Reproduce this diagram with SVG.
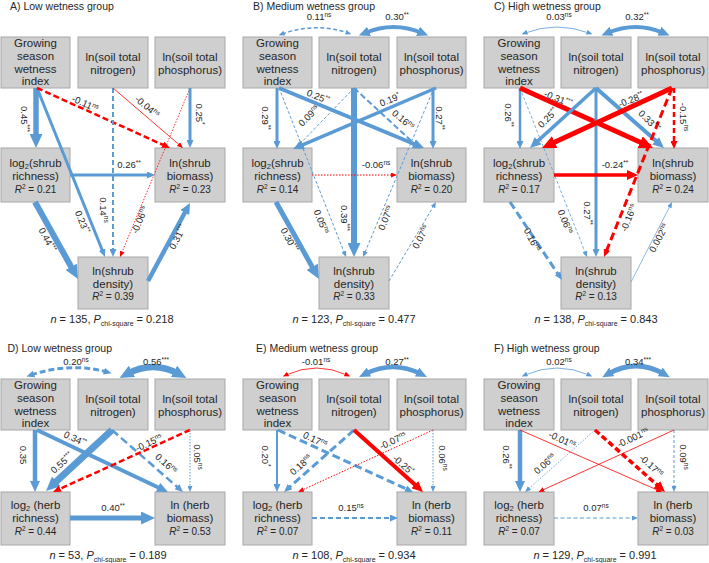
<svg xmlns="http://www.w3.org/2000/svg" width="709" height="563" viewBox="0 0 709 563">
<style>
.bg{fill:#ffffff}
.box{fill:#cfcfcf;stroke:#a8a8a8;stroke-width:1}
text{font-family:"Liberation Sans",Arial,sans-serif;fill:#262626}
.t{font-size:11.5px;text-anchor:middle}
.rs{font-size:10px}
.el{font-size:9.5px;text-anchor:middle}
.ttl{font-size:10.5px}
.ft{font-size:11px;text-anchor:middle}
.e{fill:none}
.b{stroke:#5b9bd5}
.r{stroke:#ff0000}
.dot{stroke-dasharray:1.5 1.5}
.d3{stroke-dasharray:3 2}
.d4{stroke-dasharray:4 2.5}
.d5{stroke-dasharray:5 3}
.d6{stroke-dasharray:6 3}
.d8{stroke-dasharray:8 4}
</style>
<defs>
<marker id="mbS" viewBox="0 0 6 5" refX="2.4" refY="2.5" markerWidth="6" markerHeight="5" markerUnits="userSpaceOnUse" orient="auto-start-reverse"><path d="M0,0L6,2.5L0,5z" fill="#5b9bd5"/></marker>
<marker id="mbM" viewBox="0 0 8 7" refX="3.2" refY="3.5" markerWidth="8" markerHeight="7" markerUnits="userSpaceOnUse" orient="auto-start-reverse"><path d="M0,0L8,3.5L0,7z" fill="#5b9bd5"/></marker>
<marker id="mbL" viewBox="0 0 11 10" refX="4.4" refY="5" markerWidth="11" markerHeight="10" markerUnits="userSpaceOnUse" orient="auto-start-reverse"><path d="M0,0L11,5L0,10z" fill="#5b9bd5"/></marker>
<marker id="mbX" viewBox="0 0 14 13" refX="5.6" refY="6.5" markerWidth="14" markerHeight="13" markerUnits="userSpaceOnUse" orient="auto-start-reverse"><path d="M0,0L14,6.5L0,13z" fill="#5b9bd5"/></marker>
<marker id="mrS" viewBox="0 0 6 5" refX="2.4" refY="2.5" markerWidth="6" markerHeight="5" markerUnits="userSpaceOnUse" orient="auto-start-reverse"><path d="M0,0L6,2.5L0,5z" fill="#ff0000"/></marker>
<marker id="mrM" viewBox="0 0 8 7" refX="3.2" refY="3.5" markerWidth="8" markerHeight="7" markerUnits="userSpaceOnUse" orient="auto-start-reverse"><path d="M0,0L8,3.5L0,7z" fill="#ff0000"/></marker>
<marker id="mrL" viewBox="0 0 11 10" refX="4.4" refY="5" markerWidth="11" markerHeight="10" markerUnits="userSpaceOnUse" orient="auto-start-reverse"><path d="M0,0L11,5L0,10z" fill="#ff0000"/></marker>
<marker id="mrX" viewBox="0 0 14 13" refX="5.6" refY="6.5" markerWidth="14" markerHeight="13" markerUnits="userSpaceOnUse" orient="auto-start-reverse"><path d="M0,0L14,6.5L0,13z" fill="#ff0000"/></marker>
</defs>
<rect class="bg" x="0" y="0" width="709" height="563"/>

<g id="titles">
<text class="ttl" x="10" y="9.5">A) Low wetness group</text>
<text class="ttl" x="253" y="9.5">B) Medium wetness group</text>
<text class="ttl" x="494" y="9.5">C) High wetness group</text>
<text class="ttl" x="7.5" y="351.5">D) Low wetness group</text>
<text class="ttl" x="256" y="351.5">E) Medium wetness group</text>
<text class="ttl" x="494" y="351.5">F) High wetness group</text>
</g>

<!-- Panel A nodes -->
<g id="A-wetness" transform="translate(1,37)"><rect class="box" width="69" height="51"/><text class="t"><tspan x="34.5" y="10">Growing</tspan><tspan x="34.5" y="22.8">season</tspan><tspan x="34.5" y="35.6">wetness</tspan><tspan x="34.5" y="48.4">index</tspan></text></g>
<g id="A-nitrogen" transform="translate(78,37)"><rect class="box" width="70" height="51"/><text class="t"><tspan x="35" y="23.5">ln(soil total</tspan><tspan x="35" y="36.5">nitrogen)</tspan></text></g>
<g id="A-phosphorus" transform="translate(155,37)"><rect class="box" width="70" height="51"/><text class="t"><tspan x="35" y="23.5">ln(soil total</tspan><tspan x="35" y="36.5">phosphorus)</tspan></text></g>
<g id="A-richness" transform="translate(1,148)"><rect class="box" width="69" height="54"/><text class="t" x="34.5" y="18.5">log<tspan dy="2" font-size="7.5">2</tspan><tspan dy="-2">(shrub</tspan></text><text class="t" x="34.5" y="32">richness)</text><text class="t rs" x="34.5" y="44.8"><tspan font-style="italic">R</tspan><tspan dy="-4" font-size="6.5">2</tspan><tspan dy="4"> = 0.21</tspan></text></g>
<g id="A-biomass" transform="translate(155,148)"><rect class="box" width="70" height="54"/><text class="t" x="35" y="18.5">ln(shrub</text><text class="t" x="35" y="32">biomass)</text><text class="t rs" x="35" y="44.8"><tspan font-style="italic">R</tspan><tspan dy="-4" font-size="6.5">2</tspan><tspan dy="4"> = 0.23</tspan></text></g>
<g id="A-density" transform="translate(78,257)"><rect class="box" width="70" height="52"/><text class="t" x="35" y="18">ln(shrub</text><text class="t" x="35" y="30.5">density)</text><text class="t rs" x="35" y="43"><tspan font-style="italic">R</tspan><tspan dy="-4" font-size="6.5">2</tspan><tspan dy="4"> = 0.39</tspan></text></g>

<!-- Panel B nodes -->
<g id="B-wetness" transform="translate(243,37)"><rect class="box" width="69" height="51"/><text class="t"><tspan x="34.5" y="10">Growing</tspan><tspan x="34.5" y="22.8">season</tspan><tspan x="34.5" y="35.6">wetness</tspan><tspan x="34.5" y="48.4">index</tspan></text></g>
<g id="B-nitrogen" transform="translate(319,37)"><rect class="box" width="70" height="51"/><text class="t"><tspan x="35" y="23.5">ln(soil total</tspan><tspan x="35" y="36.5">nitrogen)</tspan></text></g>
<g id="B-phosphorus" transform="translate(397,37)"><rect class="box" width="69" height="51"/><text class="t"><tspan x="34.5" y="23.5">ln(soil total</tspan><tspan x="34.5" y="36.5">phosphorus)</tspan></text></g>
<g id="B-richness" transform="translate(243,148)"><rect class="box" width="69" height="54"/><text class="t" x="34.5" y="18.5">log<tspan dy="2" font-size="7.5">2</tspan><tspan dy="-2">(shrub</tspan></text><text class="t" x="34.5" y="32">richness)</text><text class="t rs" x="34.5" y="44.8"><tspan font-style="italic">R</tspan><tspan dy="-4" font-size="6.5">2</tspan><tspan dy="4"> = 0.14</tspan></text></g>
<g id="B-biomass" transform="translate(397,148)"><rect class="box" width="69" height="54"/><text class="t" x="34.5" y="18.5">ln(shrub</text><text class="t" x="34.5" y="32">biomass)</text><text class="t rs" x="34.5" y="44.8"><tspan font-style="italic">R</tspan><tspan dy="-4" font-size="6.5">2</tspan><tspan dy="4"> = 0.20</tspan></text></g>
<g id="B-density" transform="translate(319,257)"><rect class="box" width="70" height="52"/><text class="t" x="35" y="18">ln(shrub</text><text class="t" x="35" y="30.5">density)</text><text class="t rs" x="35" y="43"><tspan font-style="italic">R</tspan><tspan dy="-4" font-size="6.5">2</tspan><tspan dy="4"> = 0.33</tspan></text></g>

<!-- Panel C nodes -->
<g id="C-wetness" transform="translate(484,37)"><rect class="box" width="70" height="51"/><text class="t"><tspan x="35" y="10">Growing</tspan><tspan x="35" y="22.8">season</tspan><tspan x="35" y="35.6">wetness</tspan><tspan x="35" y="48.4">index</tspan></text></g>
<g id="C-nitrogen" transform="translate(561,37)"><rect class="box" width="70" height="51"/><text class="t"><tspan x="35" y="23.5">ln(soil total</tspan><tspan x="35" y="36.5">nitrogen)</tspan></text></g>
<g id="C-phosphorus" transform="translate(638,37)"><rect class="box" width="70" height="51"/><text class="t"><tspan x="35" y="23.5">ln(soil total</tspan><tspan x="35" y="36.5">phosphorus)</tspan></text></g>
<g id="C-richness" transform="translate(484,148)"><rect class="box" width="70" height="54"/><text class="t" x="35" y="18.5">log<tspan dy="2" font-size="7.5">2</tspan><tspan dy="-2">(shrub</tspan></text><text class="t" x="35" y="32">richness)</text><text class="t rs" x="35" y="44.8"><tspan font-style="italic">R</tspan><tspan dy="-4" font-size="6.5">2</tspan><tspan dy="4"> = 0.17</tspan></text></g>
<g id="C-biomass" transform="translate(638,148)"><rect class="box" width="70" height="54"/><text class="t" x="35" y="18.5">ln(shrub</text><text class="t" x="35" y="32">biomass)</text><text class="t rs" x="35" y="44.8"><tspan font-style="italic">R</tspan><tspan dy="-4" font-size="6.5">2</tspan><tspan dy="4"> = 0.24</tspan></text></g>
<g id="C-density" transform="translate(561,257)"><rect class="box" width="70" height="52"/><text class="t" x="35" y="18">ln(shrub</text><text class="t" x="35" y="30.5">density)</text><text class="t rs" x="35" y="43"><tspan font-style="italic">R</tspan><tspan dy="-4" font-size="6.5">2</tspan><tspan dy="4"> = 0.13</tspan></text></g>

<!-- Panel D nodes -->
<g id="D-wetness" transform="translate(1,379)"><rect class="box" width="69" height="51"/><text class="t"><tspan x="34.5" y="10">Growing</tspan><tspan x="34.5" y="22.8">season</tspan><tspan x="34.5" y="35.6">wetness</tspan><tspan x="34.5" y="48.4">index</tspan></text></g>
<g id="D-nitrogen" transform="translate(78,379)"><rect class="box" width="70" height="51"/><text class="t"><tspan x="35" y="23.5">ln(soil total</tspan><tspan x="35" y="36.5">nitrogen)</tspan></text></g>
<g id="D-phosphorus" transform="translate(155,379)"><rect class="box" width="70" height="51"/><text class="t"><tspan x="35" y="23.5">ln(soil total</tspan><tspan x="35" y="36.5">phosphorus)</tspan></text></g>
<g id="D-richness" transform="translate(1,492)"><rect class="box" width="69" height="53"/><text class="t" x="34.5" y="16.5">log<tspan dy="2" font-size="7.5">2</tspan><tspan dy="-2"> (herb</tspan></text><text class="t" x="34.5" y="30">richness)</text><text class="t rs" x="34.5" y="42.5"><tspan font-style="italic">R</tspan><tspan dy="-4" font-size="6.5">2</tspan><tspan dy="4"> = 0.44</tspan></text></g>
<g id="D-biomass" transform="translate(155,492)"><rect class="box" width="70" height="53"/><text class="t" x="35" y="16.5">ln (herb</text><text class="t" x="35" y="30">biomass)</text><text class="t rs" x="35" y="42.5"><tspan font-style="italic">R</tspan><tspan dy="-4" font-size="6.5">2</tspan><tspan dy="4"> = 0.53</tspan></text></g>

<!-- Panel E nodes -->
<g id="E-wetness" transform="translate(243,379)"><rect class="box" width="69" height="51"/><text class="t"><tspan x="34.5" y="10">Growing</tspan><tspan x="34.5" y="22.8">season</tspan><tspan x="34.5" y="35.6">wetness</tspan><tspan x="34.5" y="48.4">index</tspan></text></g>
<g id="E-nitrogen" transform="translate(319,379)"><rect class="box" width="70" height="51"/><text class="t"><tspan x="35" y="23.5">ln(soil total</tspan><tspan x="35" y="36.5">nitrogen)</tspan></text></g>
<g id="E-phosphorus" transform="translate(397,379)"><rect class="box" width="69" height="51"/><text class="t"><tspan x="34.5" y="23.5">ln(soil total</tspan><tspan x="34.5" y="36.5">phosphorus)</tspan></text></g>
<g id="E-richness" transform="translate(243,492)"><rect class="box" width="69" height="53"/><text class="t" x="34.5" y="16.5">log<tspan dy="2" font-size="7.5">2</tspan><tspan dy="-2"> (herb</tspan></text><text class="t" x="34.5" y="30">richness)</text><text class="t rs" x="34.5" y="42.5"><tspan font-style="italic">R</tspan><tspan dy="-4" font-size="6.5">2</tspan><tspan dy="4"> = 0.07</tspan></text></g>
<g id="E-biomass" transform="translate(397,492)"><rect class="box" width="69" height="53"/><text class="t" x="34.5" y="16.5">ln (herb</text><text class="t" x="34.5" y="30">biomass)</text><text class="t rs" x="34.5" y="42.5"><tspan font-style="italic">R</tspan><tspan dy="-4" font-size="6.5">2</tspan><tspan dy="4"> = 0.11</tspan></text></g>

<!-- Panel F nodes -->
<g id="F-wetness" transform="translate(484,379)"><rect class="box" width="70" height="51"/><text class="t"><tspan x="35" y="10">Growing</tspan><tspan x="35" y="22.8">season</tspan><tspan x="35" y="35.6">wetness</tspan><tspan x="35" y="48.4">index</tspan></text></g>
<g id="F-nitrogen" transform="translate(561,379)"><rect class="box" width="70" height="51"/><text class="t"><tspan x="35" y="23.5">ln(soil total</tspan><tspan x="35" y="36.5">nitrogen)</tspan></text></g>
<g id="F-phosphorus" transform="translate(638,379)"><rect class="box" width="70" height="51"/><text class="t"><tspan x="35" y="23.5">ln(soil total</tspan><tspan x="35" y="36.5">phosphorus)</tspan></text></g>
<g id="F-richness" transform="translate(484,492)"><rect class="box" width="70" height="53"/><text class="t" x="35" y="16.5">log<tspan dy="2" font-size="7.5">2</tspan><tspan dy="-2"> (herb</tspan></text><text class="t" x="35" y="30">richness)</text><text class="t rs" x="35" y="42.5"><tspan font-style="italic">R</tspan><tspan dy="-4" font-size="6.5">2</tspan><tspan dy="4"> = 0.07</tspan></text></g>
<g id="F-biomass" transform="translate(638,492)"><rect class="box" width="70" height="53"/><text class="t" x="35" y="16.5">ln (herb</text><text class="t" x="35" y="30">biomass)</text><text class="t rs" x="35" y="42.5"><tspan font-style="italic">R</tspan><tspan dy="-4" font-size="6.5">2</tspan><tspan dy="4"> = 0.03</tspan></text></g>

<g id="connectors" class="e">
<!-- A -->
<path class="b" stroke-width="5.5" d="M36 88L36 139.6" marker-end="url(#mbX)"/>
<path class="b" stroke-width="3" d="M37 88L103.2 252.5" marker-end="url(#mbM)"/>
<path class="r d6" stroke-width="2.5" d="M37 88L165.6 146" marker-end="url(#mrM)"/>
<path class="b d5" stroke-width="2" d="M113 88L113 252.2" marker-end="url(#mbM)"/>
<path class="r" stroke-width="0.8" d="M113 88L180.3 145.7" marker-end="url(#mrS)"/>
<path class="r dot" stroke-width="0.8" d="M190 88L121.4 253.7" marker-end="url(#mrS)"/>
<path class="b" stroke-width="3" d="M190 88L190 143.2" marker-end="url(#mbM)"/>
<path class="b" stroke-width="3" d="M70 175L150.2 175" marker-end="url(#mbM)"/>
<path class="b" stroke-width="6" d="M35 202L73.9 271.7" marker-end="url(#mbX)"/>
<path class="b" stroke-width="4.5" d="M148 281L186.9 208.8" marker-end="url(#mbL)"/>
<!-- B -->
<path class="b d4" stroke-width="1.5" d="M282 34Q315 22 348 33" marker-start="url(#mbS)" marker-end="url(#mbS)"/>
<path class="b" stroke-width="4" d="M365 33Q393.5 21 422 33" marker-start="url(#mbL)" marker-end="url(#mbL)"/>
<path class="b" stroke-width="3" d="M277 88L277 144.2" marker-end="url(#mbM)"/>
<path class="b d3" stroke-width="1" d="M279 88L344.7 253.7" marker-end="url(#mbS)"/>
<path class="b" stroke-width="4" d="M279 88L417.9 145.5" marker-end="url(#mbL)"/>
<path class="b d3" stroke-width="1" d="M354 88L298.5 145.4" marker-end="url(#mbS)"/>
<path class="b" stroke-width="6" d="M354 88L354 248.6" marker-end="url(#mbX)"/>
<path class="b d6" stroke-width="2" d="M354 88L416.5 145.7" marker-end="url(#mbM)"/>
<path class="b" stroke-width="3.5" d="M436 88L299.1 146.4" marker-end="url(#mbL)"/>
<path class="b" stroke-width="3" d="M433 88L433 144.2" marker-end="url(#mbM)"/>
<path class="r dot" stroke-width="1" d="M312 175L393.4 175" marker-end="url(#mrS)"/>
<path class="b" stroke-width="5" d="M276 202L314.9 271.7" marker-end="url(#mbX)"/>
<path class="b d3" stroke-width="1" d="M434 88L364.4 253.7" marker-end="url(#mbS)"/>
<path class="b d3" stroke-width="1" d="M389 281L434.2 205.1" marker-end="url(#mbS)"/>
<!-- C -->
<path class="b" stroke-width="0.8" d="M525 33Q557 21 589 33" marker-start="url(#mbS)" marker-end="url(#mbS)"/>
<path class="b" stroke-width="4" d="M607.5 33Q635.5 21 663.5 33" marker-start="url(#mbL)" marker-end="url(#mbL)"/>
<path class="b" stroke-width="2.5" d="M520 88L520 144.2" marker-end="url(#mbM)"/>
<path class="b d3" stroke-width="0.8" d="M520 88L585.7 253.7" marker-end="url(#mbS)"/>
<path class="r" stroke-width="5" d="M520 88L645.3 144.5" marker-end="url(#mrX)"/>
<path class="b" stroke-width="3.5" d="M596 88L534.9 143.6" marker-end="url(#mbL)"/>
<path class="b" stroke-width="3" d="M596 88L596 252.2" marker-end="url(#mbM)"/>
<path class="b" stroke-width="4" d="M596 88L659 143.6" marker-end="url(#mbL)"/>
<path class="r" stroke-width="5" d="M672 88L549.6 144.5" marker-end="url(#mrX)"/>
<path class="r d5" stroke-width="2.5" d="M674 88L674 144.2" marker-end="url(#mrM)"/>
<path class="r" stroke-width="3.5" d="M554 175L631.4 175" marker-end="url(#mrL)"/>
<path class="b d8" stroke-width="3" d="M510 202L559.3 276" marker-end="url(#mbM)"/>
<path class="r d8" stroke-width="3" d="M672 88L605.8 252.5" marker-end="url(#mrM)"/>
<path class="b" stroke-width="0.7" d="M631 282L670.4 205.2" marker-end="url(#mbS)"/>
<!-- D -->
<path class="b d6" stroke-width="3" d="M31 375Q70 362 107 372" marker-start="url(#mbM)" marker-end="url(#mbM)"/>
<path class="b" stroke-width="6.5" d="M127 374Q153 360 179 374" marker-start="url(#mbX)" marker-end="url(#mbX)"/>
<path class="b" stroke-width="4.5" d="M35 430L35 485.4" marker-end="url(#mbL)"/>
<path class="b" stroke-width="4" d="M37 430L162 489.2" marker-end="url(#mbL)"/>
<path class="b" stroke-width="7" d="M112 430L52.2 485.3" marker-end="url(#mbX)"/>
<path class="b d8" stroke-width="2.5" d="M112 430L179.4 488.8" marker-end="url(#mbM)"/>
<path class="r d6" stroke-width="2.5" d="M190 430L57.4 490" marker-end="url(#mrM)"/>
<path class="b dot" stroke-width="1" d="M190 430L190 488.4" marker-end="url(#mbS)"/>
<path class="b" stroke-width="5" d="M70 518L146.6 518" marker-end="url(#mbX)"/>
<!-- E -->
<path class="r" stroke-width="0.8" d="M286 375Q316.5 361 347 375" marker-start="url(#mrS)" marker-end="url(#mrS)"/>
<path class="b" stroke-width="4.5" d="M365 374Q393 360 421 374" marker-start="url(#mbL)" marker-end="url(#mbL)"/>
<path class="b" stroke-width="2" d="M277 430L277 487.2" marker-end="url(#mbM)"/>
<path class="b d8" stroke-width="3" d="M278 430L408.6 490" marker-end="url(#mbM)"/>
<path class="b d8" stroke-width="3" d="M354 430L287.6 488.8" marker-end="url(#mbM)"/>
<path class="r" stroke-width="4" d="M354 430L418.1 487.6" marker-end="url(#mrL)"/>
<path class="r dot" stroke-width="1" d="M433 430L301.3 490.5" marker-end="url(#mrS)"/>
<path class="b dot" stroke-width="1" d="M433 430L433 488.4" marker-end="url(#mbS)"/>
<path class="b d5" stroke-width="2" d="M312 518L393.2 518" marker-end="url(#mbM)"/>
<!-- F -->
<path class="b" stroke-width="0.8" d="M525 375Q557 361 589 375" marker-start="url(#mbS)" marker-end="url(#mbS)"/>
<path class="b" stroke-width="5" d="M608 374Q636 358 664 374" marker-start="url(#mbL)" marker-end="url(#mbL)"/>
<path class="b" stroke-width="4.5" d="M520 430L520 485.4" marker-end="url(#mbL)"/>
<path class="r" stroke-width="0.8" d="M520 430L658.7 490.6" marker-end="url(#mrS)"/>
<path class="b dot" stroke-width="0.8" d="M595 430L527.7 489.6" marker-end="url(#mbS)"/>
<path class="r d6" stroke-width="3.5" d="M595 430L660.1 487.6" marker-end="url(#mrL)"/>
<path class="r" stroke-width="0.8" d="M674 430L541.7 490.5" marker-end="url(#mrS)"/>
<path class="b d3" stroke-width="1" d="M674 430L674 488.4" marker-end="url(#mbS)"/>
<path class="b d4" stroke-width="1.2" d="M554 518L634.4 518" marker-end="url(#mbS)"/>
</g>

<g id="edge-labels">
<!-- A -->
<text class="el" transform="translate(24,119) rotate(90)" y="3">0.45<tspan dy="-3.5" font-size="6.5">***</tspan></text>
<text class="el" transform="translate(85,104) rotate(24)" y="3">-0.11<tspan dy="-3.5" font-size="6.5">ns</tspan></text>
<text class="el" transform="translate(147,107) rotate(40)" y="3">-0.04<tspan dy="-3.5" font-size="6.5">ns</tspan></text>
<text class="el" transform="translate(199,114) rotate(90)" y="3">0.25<tspan dy="-3.5" font-size="6.5">*</tspan></text>
<text class="el" x="129" y="168">0.26<tspan dy="-3.5" font-size="6.5">**</tspan></text>
<text class="el" transform="translate(82,222) rotate(68)" y="3">0.23<tspan dy="-3.5" font-size="6.5">**</tspan></text>
<text class="el" transform="translate(103,210) rotate(90)" y="3">0.14<tspan dy="-3.5" font-size="6.5">ns</tspan></text>
<text class="el" transform="translate(140,220) rotate(-68)" y="3">-0.06<tspan dy="-3.5" font-size="6.5">ns</tspan></text>
<text class="el" transform="translate(47,240) rotate(62)" y="3">0.44<tspan dy="-3.5" font-size="6.5">***</tspan></text>
<text class="el" transform="translate(178,237) rotate(-62)" y="3">0.31<tspan dy="-3.5" font-size="6.5">***</tspan></text>
<!-- B -->
<text class="el" x="319" y="20">0.11<tspan dy="-3.5" font-size="6.5">ns</tspan></text>
<text class="el" x="397" y="20">0.30<tspan dy="-3.5" font-size="6.5">**</tspan></text>
<text class="el" transform="translate(265,118) rotate(90)" y="3">0.29<tspan dy="-3.5" font-size="6.5">**</tspan></text>
<text class="el" transform="translate(318,97) rotate(22)" y="3">0.25<tspan dy="-3.5" font-size="6.5">**</tspan></text>
<text class="el" transform="translate(309,116) rotate(-45)" y="3">0.09<tspan dy="-3.5" font-size="6.5">ns</tspan></text>
<text class="el" transform="translate(390,100) rotate(-22)" y="3">0.19<tspan dy="-3.5" font-size="6.5">*</tspan></text>
<text class="el" transform="translate(403,120) rotate(40)" y="3">0.16<tspan dy="-3.5" font-size="6.5">ns</tspan></text>
<text class="el" transform="translate(439,118) rotate(90)" y="3">0.27<tspan dy="-3.5" font-size="6.5">**</tspan></text>
<text class="el" x="376" y="168">-0.06<tspan dy="-3.5" font-size="6.5">ns</tspan></text>
<text class="el" transform="translate(321,222) rotate(68)" y="3">0.05<tspan dy="-3.5" font-size="6.5">ns</tspan></text>
<text class="el" transform="translate(344,218) rotate(90)" y="3">0.39<tspan dy="-3.5" font-size="6.5">***</tspan></text>
<text class="el" transform="translate(386,218) rotate(-68)" y="3">0.07<tspan dy="-3.5" font-size="6.5">ns</tspan></text>
<text class="el" transform="translate(289,240) rotate(62)" y="3">0.30<tspan dy="-3.5" font-size="6.5">***</tspan></text>
<text class="el" transform="translate(421,237) rotate(-62)" y="3">0.07<tspan dy="-3.5" font-size="6.5">ns</tspan></text>
<!-- C -->
<text class="el" x="559" y="20">0.03<tspan dy="-3.5" font-size="6.5">ns</tspan></text>
<text class="el" x="637" y="20">0.32<tspan dy="-3.5" font-size="6.5">**</tspan></text>
<text class="el" transform="translate(508,115) rotate(90)" y="3">0.26<tspan dy="-3.5" font-size="6.5">**</tspan></text>
<text class="el" transform="translate(558,99) rotate(22)" y="3">-0.31<tspan dy="-3.5" font-size="6.5">***</tspan></text>
<text class="el" transform="translate(548,118) rotate(-45)" y="3">0.25<tspan dy="-3.5" font-size="6.5">**</tspan></text>
<text class="el" transform="translate(631,100) rotate(-22)" y="3">-0.28<tspan dy="-3.5" font-size="6.5">**</tspan></text>
<text class="el" transform="translate(649,121) rotate(45)" y="3">0.33<tspan dy="-3.5" font-size="6.5">***</tspan></text>
<text class="el" transform="translate(683,117) rotate(90)" y="3">-0.15<tspan dy="-3.5" font-size="6.5">ns</tspan></text>
<text class="el" x="615" y="168">-0.24<tspan dy="-3.5" font-size="6.5">**</tspan></text>
<text class="el" transform="translate(565,222) rotate(68)" y="3">0.06<tspan dy="-3.5" font-size="6.5">ns</tspan></text>
<text class="el" transform="translate(587,213) rotate(90)" y="3">0.27<tspan dy="-3.5" font-size="6.5">**</tspan></text>
<text class="el" transform="translate(629,218) rotate(-68)" y="3">-0.16<tspan dy="-3.5" font-size="6.5">ns</tspan></text>
<text class="el" transform="translate(532,240) rotate(62)" y="3">0.16<tspan dy="-3.5" font-size="6.5">ns</tspan></text>
<text class="el" transform="translate(659,238) rotate(-62)" y="3">0.002<tspan dy="-3.5" font-size="6.5">ns</tspan></text>
<!-- D -->
<text class="el" x="76" y="365">0.20<tspan dy="-3.5" font-size="6.5">ns</tspan></text>
<text class="el" x="156" y="365">0.56<tspan dy="-3.5" font-size="6.5">***</tspan></text>
<text class="el" transform="translate(23,455) rotate(90)" y="3">0.35</text>
<text class="el" transform="translate(75,439) rotate(25)" y="3">0.34<tspan dy="-3.5" font-size="6.5">**</tspan></text>
<text class="el" transform="translate(62,463) rotate(-42)" y="3">0.55<tspan dy="-3.5" font-size="6.5">***</tspan></text>
<text class="el" transform="translate(149,443) rotate(-25)" y="3">-0.15<tspan dy="-3.5" font-size="6.5">ns</tspan></text>
<text class="el" transform="translate(166,464) rotate(42)" y="3">0.16<tspan dy="-3.5" font-size="6.5">ns</tspan></text>
<text class="el" transform="translate(197,457) rotate(90)" y="3">0.05<tspan dy="-3.5" font-size="6.5">ns</tspan></text>
<text class="el" x="113" y="511">0.40<tspan dy="-3.5" font-size="6.5">**</tspan></text>
<!-- E -->
<text class="el" x="316" y="365">-0.01<tspan dy="-3.5" font-size="6.5">ns</tspan></text>
<text class="el" x="397" y="365">0.27<tspan dy="-3.5" font-size="6.5">**</tspan></text>
<text class="el" transform="translate(265,456) rotate(90)" y="3">0.20<tspan dy="-3.5" font-size="6.5">*</tspan></text>
<text class="el" transform="translate(315,440) rotate(25)" y="3">0.17<tspan dy="-3.5" font-size="6.5">ns</tspan></text>
<text class="el" transform="translate(301,465) rotate(-42)" y="3">0.18<tspan dy="-3.5" font-size="6.5">ns</tspan></text>
<text class="el" transform="translate(393,441) rotate(-25)" y="3">-0.07<tspan dy="-3.5" font-size="6.5">ns</tspan></text>
<text class="el" transform="translate(403,465) rotate(42)" y="3">-0.25<tspan dy="-3.5" font-size="6.5">*</tspan></text>
<text class="el" transform="translate(442,458) rotate(90)" y="3">0.06<tspan dy="-3.5" font-size="6.5">ns</tspan></text>
<text class="el" x="351" y="511">0.15<tspan dy="-3.5" font-size="6.5">ns</tspan></text>
<!-- F -->
<text class="el" x="559" y="365">0.02<tspan dy="-3.5" font-size="6.5">ns</tspan></text>
<text class="el" x="638" y="365">0.34<tspan dy="-3.5" font-size="6.5">***</tspan></text>
<text class="el" transform="translate(506,457) rotate(90)" y="3">0.26<tspan dy="-3.5" font-size="6.5">**</tspan></text>
<text class="el" transform="translate(562,440) rotate(25)" y="3">-0.01<tspan dy="-3.5" font-size="6.5">ns</tspan></text>
<text class="el" transform="translate(545,464) rotate(-42)" y="3">0.06<tspan dy="-3.5" font-size="6.5">ns</tspan></text>
<text class="el" transform="translate(633,438) rotate(-25)" y="3">-0.001<tspan dy="-3.5" font-size="6.5">ns</tspan></text>
<text class="el" transform="translate(651,466) rotate(42)" y="3">-0.17<tspan dy="-3.5" font-size="6.5">ns</tspan></text>
<text class="el" transform="translate(683,457) rotate(90)" y="3">0.09<tspan dy="-3.5" font-size="6.5">ns</tspan></text>
<text class="el" x="596" y="511">0.07<tspan dy="-3.5" font-size="6.5">ns</tspan></text>
</g>

<g id="footers">
<text class="ft" x="112" y="323"><tspan font-style="italic">n</tspan> = 135, <tspan font-style="italic">P</tspan><tspan dy="2.5" font-size="7">chi-square</tspan><tspan dy="-2.5"> = 0.218</tspan></text>
<text class="ft" x="354" y="323"><tspan font-style="italic">n</tspan> = 123, <tspan font-style="italic">P</tspan><tspan dy="2.5" font-size="7">chi-square</tspan><tspan dy="-2.5"> = 0.477</tspan></text>
<text class="ft" x="596" y="323"><tspan font-style="italic">n</tspan> = 138, <tspan font-style="italic">P</tspan><tspan dy="2.5" font-size="7">chi-square</tspan><tspan dy="-2.5"> = 0.843</tspan></text>
<text class="ft" x="108" y="559"><tspan font-style="italic">n</tspan> = 53, <tspan font-style="italic">P</tspan><tspan dy="2.5" font-size="7">chi-square</tspan><tspan dy="-2.5"> = 0.189</tspan></text>
<text class="ft" x="354" y="559"><tspan font-style="italic">n</tspan> = 108, <tspan font-style="italic">P</tspan><tspan dy="2.5" font-size="7">chi-square</tspan><tspan dy="-2.5"> = 0.934</tspan></text>
<text class="ft" x="595" y="559"><tspan font-style="italic">n</tspan> = 129, <tspan font-style="italic">P</tspan><tspan dy="2.5" font-size="7">chi-square</tspan><tspan dy="-2.5"> = 0.991</tspan></text>
</g>
</svg>
